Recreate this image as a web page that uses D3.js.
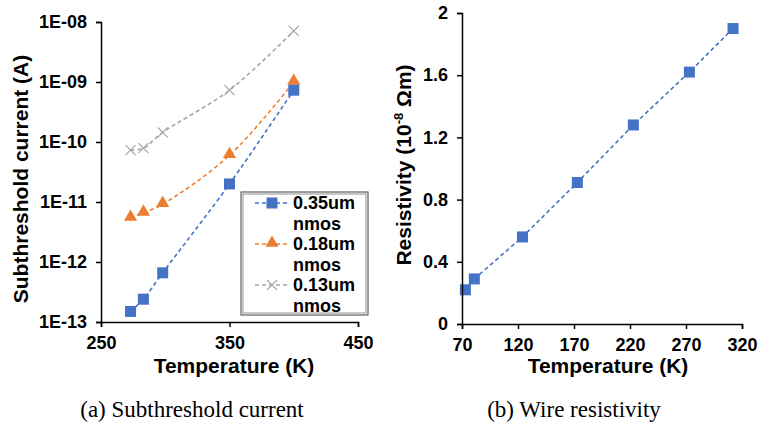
<!DOCTYPE html>
<html>
<head>
<meta charset="utf-8">
<script src="https://cdn.jsdelivr.net/npm/d3@7"></script>
<style>
  body { margin: 0; background: #fff; }
  svg text { font-family: "Liberation Sans", Arial, sans-serif; font-weight: bold; fill: #000; }
  .cap { font-family: "Liberation Serif", "Times New Roman", serif; font-weight: normal; }
</style>
</head>
<body>
<div id="chart"></div>
<script>
// (a) subthreshold current
var tempA = [273, 283, 298, 350, 400];
var nmos035 = [1.5e-13, 2.4e-13, 6.6e-13, 2.0e-11, 7.3e-10];
var nmos018 = [5.4e-12, 6.6e-12, 9.2e-12, 6.0e-11, 1.0e-9];
var nmos013 = [7.3e-11, 7.9e-11, 1.45e-10, 7.3e-10, 7.1e-9];
var seriesNames = ["0.35um", "0.18um", "0.13um"];
var xTicksA = [250, 350, 450];
var yTicksA = [1e-13, 1e-12, 1e-11, 1e-10, 1e-9, 1e-8];

// (b) wire resistivity
var tempB = [73, 81, 124, 173, 223, 273, 312];
var resistivity = [0.22, 0.29, 0.56, 0.91, 1.28, 1.62, 1.90];
var xTicksB = [70, 120, 170, 220, 270, 320];
var yTicksB = [0, 0.4, 0.8, 1.2, 1.6, 2];

var W = 760, H = 426;
var svg = d3.select("#chart").append("svg").attr("width", W).attr("height", H);

var colors = ["#4472C4", "#ED7D31", "#A5A5A5"];

function marker(g, type, x, y, c) {
    if (type == 0) {
        g.append("rect").attr("x", x - 5.5).attr("y", y - 5.5).attr("width", 11).attr("height", 11).attr("fill", c);
    } else if (type == 1) {
        g.append("path").attr("d", d3.symbol(d3.symbolTriangle, 75)()).attr("transform", "translate(" + x + "," + (y - 1) + ")").attr("fill", c);
    } else {
        g.append("path").attr("d", "M-5,-5L5,5M-5,5L5,-5").attr("transform", "translate(" + x + "," + y + ")")
            .attr("stroke", c).attr("stroke-width", 1.2).attr("fill", "none");
    }
}

function styleAxis(g) {
    g.select(".domain").attr("stroke", "#000").attr("stroke-width", 1.5);
    g.selectAll(".tick line").attr("stroke", "#000").attr("stroke-width", 1.5);
    g.selectAll(".tick text").style("font-size", "18px").style("font-family", "Liberation Sans, Arial, sans-serif").style("font-weight", "bold");
}

// ---------- left chart ----------
var xA = d3.scaleLinear().domain([250, 450]).range([101, 358]);
var yA = d3.scaleLog().domain([1e-13, 1e-8]).range([322, 22]);

var gA = svg.append("g");
var lineA = d3.line().x(function(d) { return xA(d[0]); }).y(function(d) { return yA(d[1]); }).curve(d3.curveCatmullRom.alpha(0.5));

[nmos035, nmos018, nmos013].forEach(function(vals, i) {
    var pts = tempA.map(function(t, k) { return [t, vals[k]]; });
    gA.append("path").attr("d", lineA(pts)).attr("fill", "none")
        .attr("stroke", colors[i]).attr("stroke-width", 1.6).attr("stroke-dasharray", "4,3");
});
[nmos013, nmos018, nmos035].forEach(function(vals, j) {
    var i = 2 - j;
    tempA.forEach(function(t, k) { marker(gA, i, xA(t), yA(vals[k]), colors[i]); });
});

gA.append("g").attr("transform", "translate(0,322)")
    .call(d3.axisBottom(xA).tickValues(xTicksA).tickSize(5).tickPadding(9).tickFormat(d3.format("d")))
    .call(styleAxis);
gA.append("g").attr("transform", "translate(101,0)")
    .call(d3.axisLeft(yA).tickValues(yTicksA).tickSize(5).tickPadding(9)
        .tickFormat(function(d) { return "1E-" + String(-Math.round(Math.log10(d))).padStart(2, "0"); }))
    .call(styleAxis);

gA.append("text").attr("x", 234).attr("y", 373).attr("text-anchor", "middle").style("font-size", "21px").text("Temperature (K)");
gA.append("text").attr("transform", "translate(28,179) rotate(-90)").attr("text-anchor", "middle").style("font-size", "21px").text("Subthreshold current (A)");

// legend
var lg = gA.append("g");
lg.append("rect").attr("x", 241).attr("y", 192).attr("width", 127).attr("height", 123).attr("fill", "#fff").attr("stroke", "#404040").attr("stroke-width", 1);
lg.append("rect").attr("x", 243).attr("y", 194).attr("width", 123).attr("height", 119).attr("fill", "none").attr("stroke", "#909090").attr("stroke-width", 1);
seriesNames.forEach(function(name, i) {
    var y0 = 203 + i * 41;
    lg.append("line").attr("x1", 255).attr("x2", 290).attr("y1", y0).attr("y2", y0)
        .attr("stroke", colors[i]).attr("stroke-width", 1.6).attr("stroke-dasharray", "4,3");
    marker(lg, i, 272, y0, colors[i]);
    lg.append("text").attr("x", 293).attr("y", y0 + 6).style("font-size", "18px").text(name);
    lg.append("text").attr("x", 293).attr("y", y0 + 27).style("font-size", "18px").text("nmos");
});

// ---------- right chart ----------
var xB = d3.scaleLinear().domain([70, 320]).range([462, 742]);
var yB = d3.scaleLinear().domain([0, 2]).range([324, 13]);
var gB = svg.append("g");

var lineB = d3.line().x(function(d) { return xB(d[0]); }).y(function(d) { return yB(d[1]); });
var ptsB = tempB.map(function(t, k) { return [t, resistivity[k]]; });
gB.append("path").attr("d", lineB(ptsB)).attr("fill", "none")
    .attr("stroke", colors[0]).attr("stroke-width", 1.6).attr("stroke-dasharray", "4,3");
ptsB.forEach(function(p) { marker(gB, 0, xB(p[0]), yB(p[1]), colors[0]); });

gB.append("g").attr("transform", "translate(0,324)")
    .call(d3.axisBottom(xB).tickValues(xTicksB).tickSize(5).tickPadding(9).tickFormat(d3.format("d")))
    .call(styleAxis);
gB.append("g").attr("transform", "translate(462,0)")
    .call(d3.axisLeft(yB).tickValues(yTicksB).tickSize(5).tickPadding(9).tickFormat(function(d) { return d; }))
    .call(styleAxis);

gB.append("text").attr("x", 608).attr("y", 373).attr("text-anchor", "middle").style("font-size", "21px").text("Temperature (K)");
var yl = gB.append("text").attr("transform", "translate(411,165) rotate(-90)").attr("text-anchor", "middle").style("font-size", "21px");
yl.append("tspan").text("Resistivity (10");
yl.append("tspan").attr("dy", -8).style("font-size", "13px").text("-8");
yl.append("tspan").attr("dy", 8).text(" \u03A9m)");

// captions
svg.append("text").attr("class", "cap").attr("x", 192).attr("y", 417).attr("text-anchor", "middle").style("font-size", "23px").text("(a) Subthreshold current");
svg.append("text").attr("class", "cap").attr("x", 574).attr("y", 417).attr("text-anchor", "middle").style("font-size", "23px").text("(b) Wire resistivity");
</script>
</body>
</html>
